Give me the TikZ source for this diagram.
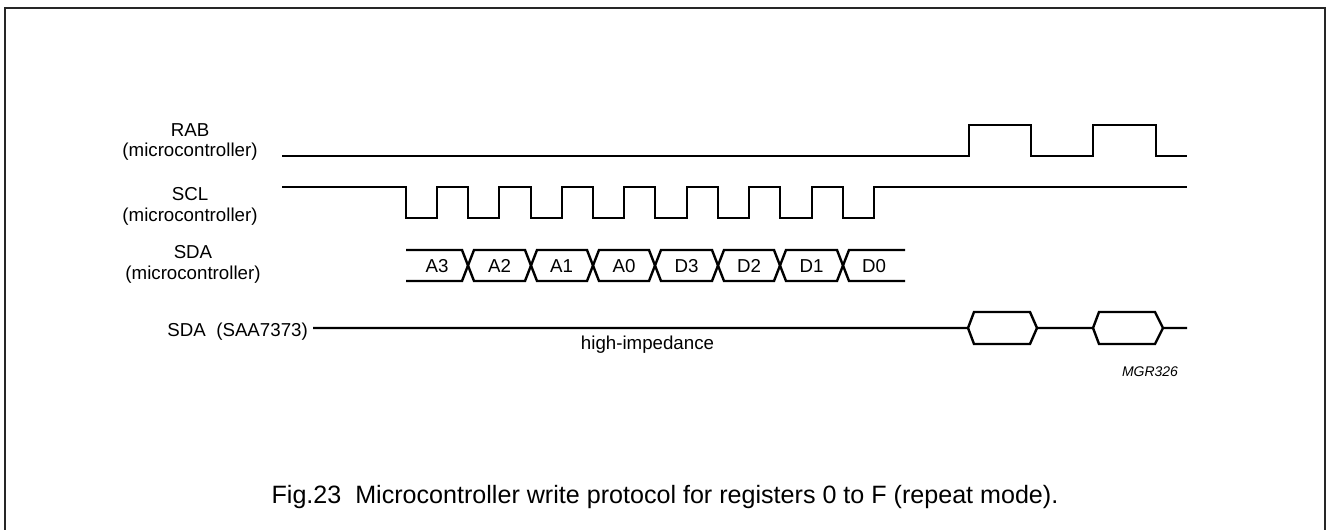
\documentclass[tikz,border=0pt]{standalone}
\usepackage{fontspec}
\setmainfont{Liberation Sans}
\tikzset{
  wave/.style={line width=2.4pt,line join=miter,line cap=butt,draw=black},
  framebox/.style={line width=2.4pt,draw=black!85},
  siglabel/.style={font=\fontsize{18.7}{20.5}\selectfont,align=center,inner sep=0pt},
  datalabel/.style={font=\fontsize{18.7}{20.5}\selectfont,inner sep=0pt,anchor=base},
  note/.style={font=\fontsize{18.7}{20.5}\selectfont,inner sep=0pt,anchor=base},
  tag/.style={font=\fontsize{14}{16}\selectfont\itshape,inner sep=0pt,anchor=base},
  caption/.style={font=\fontsize{25.1}{28}\selectfont,inner sep=0pt,anchor=base}
}
\begin{document}
\begin{tikzpicture}[x=1pt,y=-1pt]
\useasboundingbox (0,0) rectangle (1326,530);
% frame
\draw[framebox] (5,530) -- (5,8) -- (1325,8) -- (1325,530);
% RAB
\draw[wave] (282,156) -- (969,156) -- (969,125) -- (1031,125) -- (1031,156) -- (1093,156) -- (1093,125) -- (1156,125) -- (1156,156) -- (1187,156);
% SCL
\draw[wave] (282,187) -- (406,187) -- (406,218)
  -- (437,218) -- (437,187) -- (468,187) -- (468,218)
  -- (499,218) -- (499,187) -- (531,187) -- (531,218)
  -- (562,218) -- (562,187) -- (593,187) -- (593,218)
  -- (624,218) -- (624,187) -- (655,187) -- (655,218)
  -- (687,218) -- (687,187) -- (718,187) -- (718,218)
  -- (749,218) -- (749,187) -- (780,187) -- (780,218)
  -- (812,218) -- (812,187) -- (843,187) -- (843,218)
  -- (874,218) -- (874,187) -- (1187,187);
% SDA microcontroller bus
\draw[wave] (406,250) -- (462,250) -- (474,281) -- (525,281) -- (537,250) -- (587,250) -- (599,281) -- (649,281) -- (661,250) -- (712,250) -- (724,281) -- (774,281) -- (786,250) -- (837,250) -- (849,281) -- (905,281);
\draw[wave] (406,281) -- (462,281) -- (474,250) -- (525,250) -- (537,281) -- (587,281) -- (599,250) -- (649,250) -- (661,281) -- (712,281) -- (724,250) -- (774,250) -- (786,281) -- (837,281) -- (849,250) -- (905,250);
% SDA SAA7373
\draw[wave] (313,328) -- (968,328) -- (974,312) -- (1030,312) -- (1037,328) -- (1093,328) -- (1099,312) -- (1155,312) -- (1163,328) -- (1187,328);
\draw[wave] (968,328) -- (974,344) -- (1030,344) -- (1037,328);
\draw[wave] (1093,328) -- (1099,344) -- (1155,344) -- (1163,328);
% labels
\node[siglabel] (rab) at (190,142) {RAB\\(microcontroller)};
\node[siglabel] (scl) at (190,206.5) {SCL\\(microcontroller)};
\node[siglabel] (sda) at (193,264.5) {SDA\\(microcontroller)};
\node[siglabel,anchor=base east] (saa) at (308,336) {SDA\ \ (SAA7373)};
\foreach \x/\t in {437/A3,499.5/A2,561.5/A1,624/A0,686.5/D3,749/D2,811.5/D1,874/D0}
  \node[datalabel] (bit\t) at (\x,272) {\t};
\node[note] (hz) at (647.5,349) {high-impedance};
\node[tag] (ref) at (1150,376) {MGR326};
\node[caption] (cap) at (665,503) {Fig.23\ \ Microcontroller write protocol for registers 0 to F (repeat mode).};
\end{tikzpicture}
\end{document}
